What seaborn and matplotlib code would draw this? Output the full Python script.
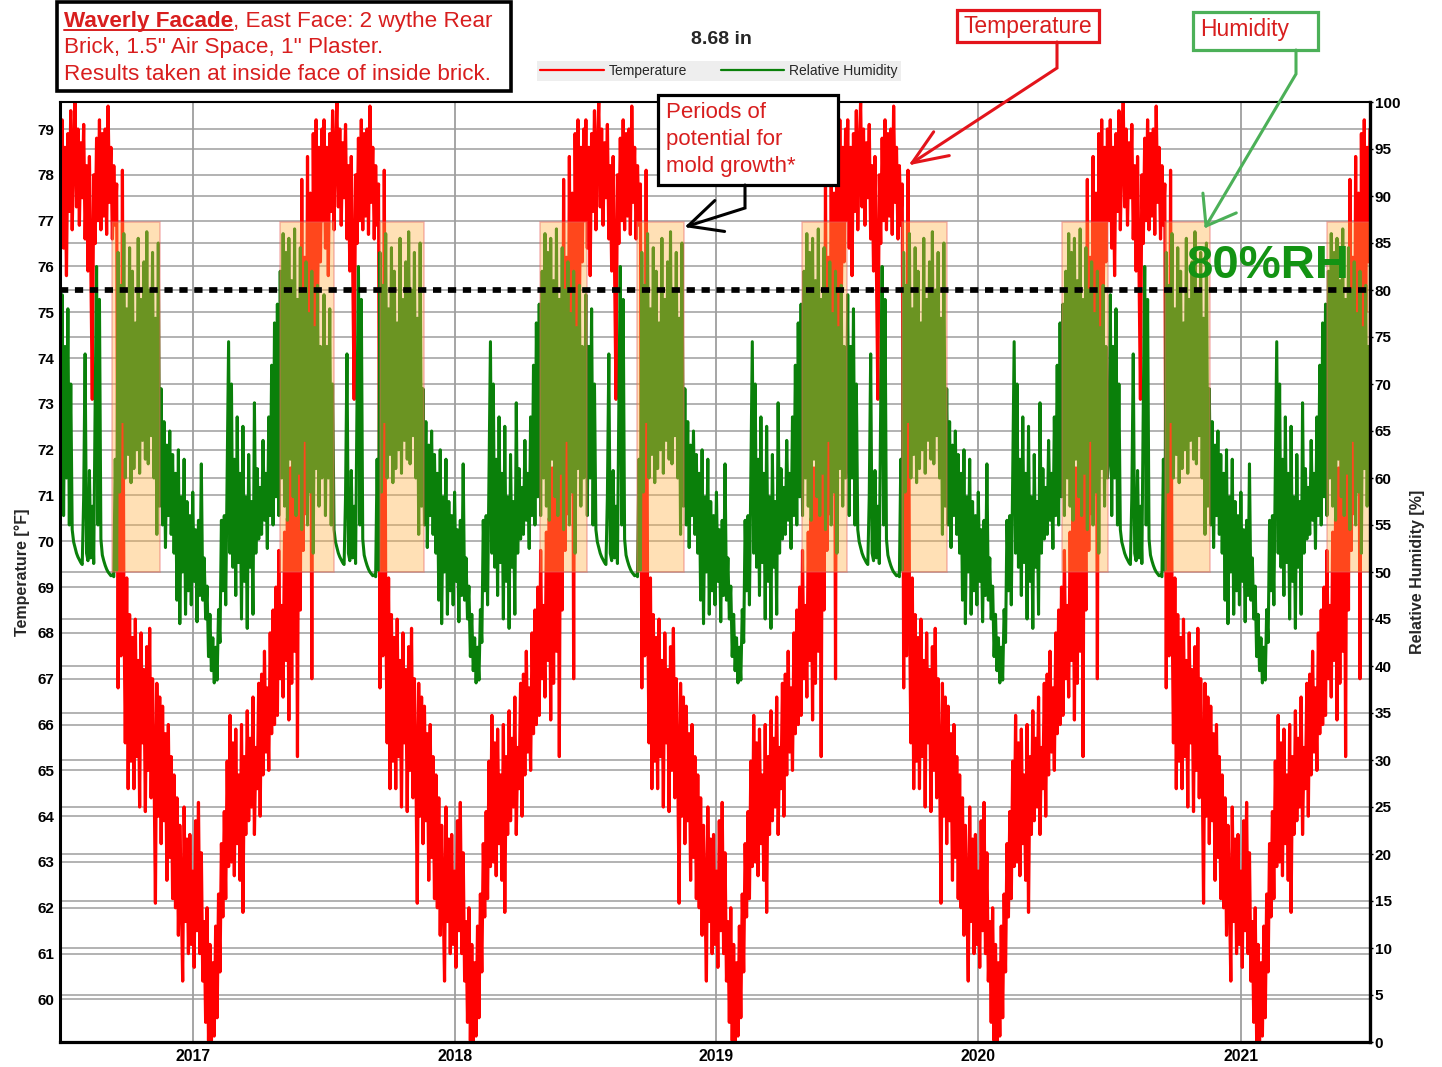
import numpy as np
import pandas as pd
import matplotlib
matplotlib.use("Agg")
import matplotlib.pyplot as plt
import matplotlib.dates as mdates
from matplotlib.patches import Rectangle
from matplotlib.lines import Line2D
import seaborn as sns

W, H, DPI = 1442, 1067, 100

# One simulated climate year (Jul 1 -> Jun 30), one value every second day.
# The hygrothermal run repeats the same weather year, so every year replays it.
temp_year = [
    77.0, 79.2, 76.4, 78.6, 75.8, 78.9, 77.2, 79.4, 76.8, 78.5,
    79.6, 77.3, 79.0, 76.9, 78.7, 77.5, 79.1, 76.6, 78.2, 75.9,
    78.4, 76.0, 73.1, 78.0, 76.5, 78.8, 77.0, 79.2, 76.8, 78.9,
    77.1, 79.0, 76.7, 79.5, 77.4, 78.6, 76.6, 78.2, 76.9, 77.8,
    66.8, 75.5, 67.5, 78.1, 68.8, 65.6, 69.2, 64.6, 68.4, 65.2,
    67.9, 64.6, 68.3, 65.3, 67.4, 64.2, 68.0, 65.6, 67.2, 64.1,
    67.7, 65.0, 68.1, 64.4, 67.0, 65.2, 62.1, 66.9, 64.0, 66.6,
    63.4, 66.4, 63.9, 65.8, 62.6, 66.0, 63.1, 65.3, 62.2, 64.9,
    62.0, 64.4, 61.4, 63.8, 62.3, 60.4, 64.2, 61.7, 63.5, 61.0,
    63.6, 61.2, 62.8, 60.7, 63.9, 61.5, 64.3, 61.0, 63.2, 60.4,
    61.7, 59.5, 62.0, 59.1, 61.2, 59.0, 60.8, 59.2, 61.6, 59.6,
    62.3, 60.6, 63.4, 61.8, 64.1, 62.2, 65.2, 62.9, 66.2, 63.0,
    65.6, 62.7, 65.9, 63.4, 64.9, 62.6, 66.0, 61.9, 65.3, 63.6,
    66.3, 63.9, 65.7, 64.2, 66.6, 63.6, 65.5, 64.6, 66.9, 64.0,
    67.1, 64.9, 67.6, 65.4, 66.8, 65.0, 68.0, 65.8, 68.5, 66.0,
    69.0, 66.2, 69.8, 67.0, 68.6, 66.6, 70.2, 67.4, 70.5, 66.1,
    71.6, 66.9, 72.4, 67.6, 73.0, 65.3, 73.8, 68.5, 77.9, 69.8,
    76.2, 70.6, 78.4, 72.0, 77.6, 67.0, 78.9, 74.1, 79.2, 75.0, 78.6, 76.1, 79.0,
]
rh_year = [
    62.0, 79.5, 56.0, 74.0, 60.0, 78.0, 55.0, 70.0, 54.5, 53.2,
    52.6, 52.0, 51.6, 51.3, 51.0, 50.8, 58.0, 73.2, 52.0, 51.2,
    60.8, 51.5, 57.0, 50.9, 68.0, 82.5, 55.0, 79.0, 53.5, 51.8,
    51.2, 50.7, 50.3, 50.0, 49.8, 49.6, 49.7, 49.5, 62.0, 50.2,
    84.0, 58.5, 80.5, 66.0, 86.0, 60.0, 78.0, 62.5, 84.5, 59.5,
    82.0, 61.0, 76.5, 63.0, 85.5, 60.5, 79.0, 64.0, 83.0, 62.0,
    86.2, 61.5, 80.0, 64.5, 84.0, 60.0, 77.0, 54.0, 85.0, 57.0,
    69.5, 55.0, 66.0, 52.6, 63.5, 56.0, 65.0, 54.0, 62.5, 52.0,
    60.5, 47.0, 63.0, 44.5, 58.0, 50.0, 62.0, 45.5, 57.5, 48.0,
    56.0, 46.5, 58.5, 49.0, 54.5, 44.7, 55.5, 47.5, 61.5, 47.0,
    51.5, 45.0, 48.5, 41.0, 45.5, 39.5, 43.0, 38.2, 42.0, 38.5,
    46.0, 42.5, 55.5, 48.0, 56.0, 46.5, 60.0, 74.5, 52.0, 70.0,
    50.5, 62.0, 47.5, 66.5, 51.0, 60.5, 45.0, 65.5, 49.0, 58.0,
    44.0, 62.5, 50.5, 57.5, 45.5, 68.0, 52.0, 61.0, 53.5, 59.0,
    54.0, 64.0, 55.5, 60.5, 52.5, 66.5, 56.0, 72.0, 55.0, 76.5,
    58.0, 78.5, 56.0, 82.0, 60.0, 86.0, 57.0, 84.0, 55.5, 85.5,
    62.0, 81.0, 58.0, 86.5, 56.0, 79.0, 60.5, 84.5, 54.5, 80.0,
    64.0, 83.0, 55.0, 77.5, 58.5, 82.0, 52.0, 76.0, 61.0, 80.5, 57.0, 74.0, 60.0,
]
sim_years = [2016, 2017, 2018, 2019, 2020]

# Periods flagged for potential mold growth (RH band 50 % .. 87 %)
mold_start = ["2016-09-11", "2017-05-02", "2017-09-19", "2018-04-30", "2018-09-12",
              "2019-04-30", "2019-09-17", "2020-04-26", "2020-09-17", "2021-05-01"]
mold_end = ["2016-11-16", "2017-07-17", "2017-11-19", "2018-07-05", "2018-11-17",
            "2019-07-02", "2019-11-18", "2020-06-30", "2020-11-19", "2021-07-15"]
mold_rh_low, mold_rh_high = 50.0, 87.2

year_ticks = [2017, 2018, 2019, 2020, 2021]
temp_ticks = list(range(60, 80))
rh_ticks = list(range(0, 101, 5))
rh_threshold = 80
T_MIN, T_MAX = 59.07, 79.59

# ---- assemble the five simulated years ----
frames = []
for yr in sim_years:
    dates = pd.Timestamp(f"{yr}-07-01") + pd.to_timedelta(np.arange(len(temp_year)) * 2, unit="D")
    frames.append(pd.DataFrame({"date": dates, "temp": temp_year, "rh": rh_year}))
df = pd.concat(frames, ignore_index=True)

sns.set_theme(style="white")
plt.rcParams["font.family"] = ["Liberation Sans", "DejaVu Sans"]

RED = "#ff0000"
GREEN = "#0a800a"
TXT_RED = "#d81e1e"
GRID = "#9e9e9e"

fig = plt.figure(figsize=(W / DPI, H / DPI), dpi=DPI)
fig.patch.set_facecolor("white")
ax = fig.add_axes([60 / W, 1 - 1042 / H, 1310 / W, 940 / H])
ax2 = ax.twinx()

sns.lineplot(data=df, x="date", y="temp", ax=ax, color=RED, lw=2.3,
             estimator=None, sort=False, zorder=2)
sns.lineplot(data=df, x="date", y="rh", ax=ax2, color=GREEN, lw=2.2,
             estimator=None, sort=False, zorder=2)

ax.set_ylim(T_MIN, T_MAX)
ax2.set_ylim(0, 100)
ax.set_xlim(pd.Timestamp("2016-06-30"), pd.Timestamp("2021-06-30"))

# grid: temperature lines, humidity lines (mapped onto the left scale), years
for t in temp_ticks:
    ax.axhline(t, color=GRID, lw=1.1, zorder=0.5)
for r in rh_ticks:
    ax.axhline(T_MIN + r / 100 * (T_MAX - T_MIN), color=GRID, lw=1.1, zorder=0.5)
for y in year_ticks:
    ax.axvline(pd.Timestamp(f"{y}-01-01"), color=GRID, lw=1.3, zorder=0.5)

# mold-growth windows
for s, e in zip(mold_start, mold_end):
    x0 = mdates.date2num(pd.Timestamp(s))
    x1 = mdates.date2num(pd.Timestamp(e))
    ax2.add_patch(Rectangle((x0, mold_rh_low), x1 - x0, mold_rh_high - mold_rh_low,
                            facecolor="#ffb347", alpha=0.4, edgecolor="#e86060",
                            lw=1.2, zorder=3))

ax2.axhline(rh_threshold, color="black", lw=4.1, dashes=(1.45, 1.17), zorder=4)

# ticks and labels
ax.set_yticks(temp_ticks)
ax.set_yticklabels([str(t) for t in temp_ticks], fontweight="bold", fontsize=11)
ax2.set_yticks(rh_ticks)
ax2.set_yticklabels([str(r) for r in rh_ticks], fontweight="bold", fontsize=11)
ax.set_xticks([mdates.date2num(pd.Timestamp(f"{y}-01-01")) for y in year_ticks])
ax.set_xticklabels([str(y) for y in year_ticks], fontweight="bold", fontsize=11.3)
ax.tick_params(axis="y", length=0, pad=4, colors="black")
ax.tick_params(axis="x", length=0, pad=5, colors="black")
ax2.tick_params(axis="y", length=2.5, width=1, pad=1, colors="black", direction="out")
ax.grid(False)
ax2.grid(False)

ax.set_xlabel("")
ax.set_ylabel("Temperature [°F]", fontsize=11.5, fontweight="bold")
ax.yaxis.set_label_coords(-0.023, 0.5)
ax2.set_ylabel("Relative Humidity [%]", fontsize=11.5, fontweight="bold")
ax2.yaxis.set_label_coords(1.0305, 0.5)

for sp in ax.spines.values():
    sp.set_visible(False)
for name, lw in (("left", 2.2), ("right", 2.4), ("bottom", 2.3), ("top", 1.5)):
    ax2.spines[name].set_visible(True)
    ax2.spines[name].set_color("black")
    ax2.spines[name].set_linewidth(lw)
    ax2.spines[name].set_zorder(10)

# ---- title and legend ----
fig.text(721 / W, 1 - 40 / H, "8.68 in", ha="center", va="center",
         fontsize=14, fontweight="bold")
handles = [Line2D([], [], color=RED, lw=1.6), Line2D([], [], color=GREEN, lw=1.6)]
leg = fig.legend(handles, ["Temperature", "Relative Humidity"], loc="center",
                 bbox_to_anchor=(719 / W, 1 - 71 / H), ncol=2, fontsize=10,
                 handlelength=4.6, handletextpad=0.35, columnspacing=2.4,
                 borderpad=0.25, fancybox=False, framealpha=1,
                 facecolor="#eeeeee")
leg.get_frame().set_edgecolor("none")


def fx(x):
    return x / W


def fy(y):
    return 1 - y / H


def box(x0, y0, x1, y1, edge, lw):
    fig.add_artist(Rectangle((fx(x0), fy(y1)), fx(x1) - fx(x0), fy(y0) - fy(y1),
                             transform=fig.transFigure, facecolor="white",
                             edgecolor=edge, lw=lw, zorder=5))


def callout(points, color, lw=2.2, head=37, spread=26):
    fig.add_artist(Line2D([fx(p[0]) for p in points], [fy(p[1]) for p in points],
                          transform=fig.transFigure, color=color, lw=lw, zorder=6,
                          solid_joinstyle="miter"))
    (xt, yt), (xp, yp) = points[-1], points[-2]
    ang = np.arctan2(yp - yt, xp - xt)
    for sgn in (1, -1):
        a = ang + sgn * np.radians(spread)
        ex, ey = xt + head * np.cos(a), yt + head * np.sin(a)
        fig.add_artist(Line2D([fx(ex), fx(xt)], [fy(ey), fy(yt)],
                              transform=fig.transFigure, color=color, lw=lw,
                              zorder=6, solid_capstyle="round"))


# ---- description box ----
box(57, 2, 511, 91, "black", 2.6)
renderer = fig.canvas.get_renderer()
t_bold = fig.text(fx(64), fy(27), "Waverly Facade", fontsize=16.2,
                  fontweight="bold", color=TXT_RED, va="baseline", zorder=7)
bb = t_bold.get_window_extent(renderer=renderer)
fig.add_artist(Line2D([bb.x0 / W, bb.x1 / W], [fy(29.5), fy(29.5)],
                      transform=fig.transFigure, color=TXT_RED, lw=1.4, zorder=7))
fig.text(bb.x1 / W, fy(27), ", East Face: 2 wythe Rear", fontsize=16.2,
         color=TXT_RED, va="baseline", zorder=7)
fig.text(fx(64), fy(53), 'Brick, 1.5" Air Space, 1" Plaster.', fontsize=16.2,
         color=TXT_RED, va="baseline", zorder=7)
fig.text(fx(64), fy(80), "Results taken at inside face of inside brick.",
         fontsize=16.2, color=TXT_RED, va="baseline", zorder=7)

# ---- callouts ----
box(957, 10, 1099, 42, "#e3141b", 2.3)
fig.text(fx(1028), fy(33), "Temperature", ha="center", va="baseline",
         fontsize=16.5, color=TXT_RED, zorder=7)
callout([(1057, 42), (1057, 68), (912, 163)], "#e3141b", head=38, spread=22)

box(1193, 12, 1318, 50, "#4cb058", 2.3)
fig.text(fx(1200), fy(36), "Humidity", ha="left", va="baseline",
         fontsize=16.5, color=TXT_RED, zorder=7)
callout([(1296, 50), (1296, 74), (1206, 226)], "#4cb058", head=33, spread=36)

box(658, 95, 838, 185, "black", 2.3)
for txt, yb in (("Periods of", 118), ("potential for", 145), ("mold growth*", 172)):
    fig.text(fx(666), fy(yb), txt, ha="left", va="baseline", fontsize=16,
             color=TXT_RED, zorder=7)
callout([(745, 185), (745, 208), (688, 226)], "black", head=37, spread=26)

fig.text(fx(1187), fy(278), "80%RH", ha="left", va="baseline", fontsize=34,
         fontweight="bold", color="#139313", zorder=7)

fig.savefig("out.png", dpi=DPI)
